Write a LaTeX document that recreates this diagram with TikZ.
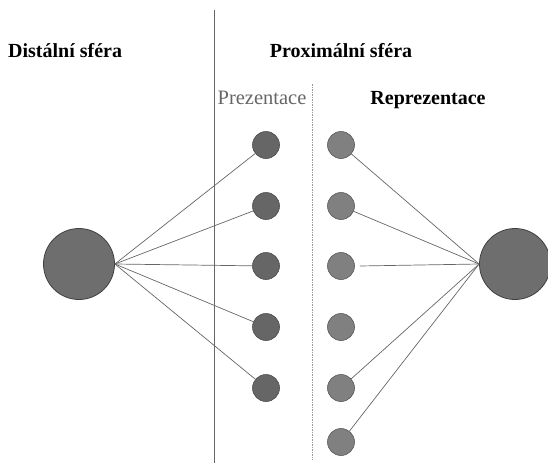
\documentclass[tikz,border=0pt]{standalone}
\usepackage{fontspec}
\setmainfont{Liberation Serif}
\begin{document}
\begin{tikzpicture}[x=1pt,y=-1pt,
  big/.style={circle,draw=black!75,line width=0.8pt,fill=black!57,minimum size=71pt,inner sep=0pt},
  smallL/.style={circle,draw=black!70,line width=0.6pt,fill=black!60,minimum size=27pt,inner sep=0pt},
  smallR/.style={circle,draw=black!65,line width=0.6pt,fill=black!50,minimum size=27pt,inner sep=0pt},
  link/.style={draw=black!60,line width=0.7pt},
  title/.style={font=\fontsize{20}{23}\selectfont\bfseries,anchor=base},
]
\useasboundingbox (0,0) rectangle (548,463);
% vertical separators
\coordinate (vtop) at (214,10);
\coordinate (vbot) at (214,463);
\draw[black!60,line width=0.9pt] (vtop) -- (vbot);
\coordinate (dtop) at (312,84);
\coordinate (dbot) at (312,460);
\draw[black!40,line width=0.8pt,dash pattern=on 1.5pt off 1pt] (dtop) -- (dbot);
% titles
\node[title,anchor=base west,inner sep=0pt] (dist) at (8,57) {Distální sféra};
\node[title] (prox) at (341,57) {Proximální sféra};
\node[font=\fontsize{20.5}{23}\selectfont,text=black!60,anchor=base] (prez) at (262,104) {Prezentace};
\node[title] (repr) at (428,104) {Reprezentace};
% big circles
\node[big] (L) at (79,264) {};
\node[big] (R) at (515,264) {};
% left column
\foreach \i/\y in {1/145,2/206,3/266,4/327,5/388}{
  \node[smallL] (l\i) at (266,\y) {};
  \draw[link] (L.east) -- (l\i);
}
% right column
\foreach \i/\y in {1/145,2/206,3/266,4/327,5/388,6/442}{
  \node[smallR] (r\i) at (341,\y) {};
}
\foreach \i in {1,2,5,6}{
  \draw[link] (r\i) -- (R.west);
}
\draw[link] ([xshift=5pt]r3.east) -- (R.west);
\end{tikzpicture}
\end{document}
